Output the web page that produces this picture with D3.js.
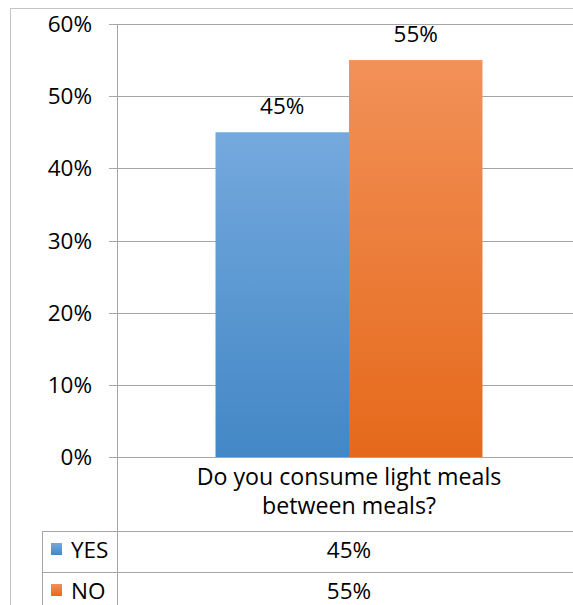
<!DOCTYPE html>
<html>
<head>
<meta charset="utf-8">
<script src="https://cdn.jsdelivr.net/npm/d3@7"></script>
<style>
  body { margin: 0; background: #fff; }
  svg { display: block; font-family: "Open Sans", sans-serif; }
</style>
</head>
<body>
<div id="chart"></div>
<script>
// chart data
var categories = ["Do you consume light meals between meals?"];
var categoryLines = ["Do you consume light meals", "between meals?"];
var seriesNames = ["YES", "NO"];
var seriesValues = [0.45, 0.55];
var yTicks = [0, 0.1, 0.2, 0.3, 0.4, 0.5, 0.6];

var width = 573, height = 605;
var gridColor = "#a6a6a6";
var fontSize = 22.5, catFontSize = 23.2;

var svg = d3.select("#chart").append("svg")
    .attr("width", width).attr("height", height);

// gradients for the two series
var defs = svg.append("defs");
var grads = [["#74a9dd", "#4387c6"], ["#f29158", "#e5691b"]];
grads.forEach(function (g, i) {
  var lg = defs.append("linearGradient").attr("id", "g" + i)
      .attr("x1", 0).attr("y1", 0).attr("x2", 0).attr("y2", 1);
  lg.append("stop").attr("offset", "0%").attr("stop-color", g[0]);
  lg.append("stop").attr("offset", "100%").attr("stop-color", g[1]);
});

var y = d3.scaleLinear().domain([0, 0.6]).range([457, 24]);
var x0 = d3.scaleBand().domain(categories).range([117, 581]).padding(0);
var x1 = d3.scaleBand().domain(seriesNames)
    .range([0, x0.bandwidth()]).paddingInner(0).paddingOuter(0.738);

// outer frame
svg.append("line").attr("x1", 10).attr("x2", width).attr("y1", 8.5).attr("y2", 8.5)
    .attr("stroke", "#c4c4c4");
svg.append("line").attr("x1", 10.5).attr("x2", 10.5).attr("y1", 8).attr("y2", height)
    .attr("stroke", "#c4c4c4");

// gridlines + tick marks
svg.selectAll(".grid").data(yTicks).enter().append("line")
    .attr("x1", 109).attr("x2", width)
    .attr("y1", function (d) { return Math.round(y(d)) + 0.5; })
    .attr("y2", function (d) { return Math.round(y(d)) + 0.5; })
    .attr("stroke", gridColor);

// y tick labels
svg.selectAll(".ytl").data(yTicks).enter().append("text")
    .attr("x", 92).attr("y", function (d) { return y(d) + 8; })
    .attr("text-anchor", "end").attr("font-size", fontSize).attr("fill", "#000")
    .text(d3.format(".0%"));

// bars
var bars = svg.selectAll(".bar").data(seriesValues).enter();
bars.append("rect")
    .attr("x", function (d, i) { return x0(categories[0]) + x1(seriesNames[i]); })
    .attr("y", function (d) { return y(d); })
    .attr("width", x1.bandwidth())
    .attr("height", function (d) { return y(0) - y(d); })
    .attr("fill", function (d, i) { return "url(#g" + i + ")"; });

bars.append("text")
    .attr("x", function (d, i) { return x0(categories[0]) + x1(seriesNames[i]) + x1.bandwidth() / 2; })
    .attr("y", function (d) { return y(d) - 18; })
    .attr("text-anchor", "middle").attr("font-size", fontSize)
    .text(d3.format(".0%"));

// value axis line
svg.append("line").attr("x1", 117.5).attr("x2", 117.5).attr("y1", y(0.6)).attr("y2", height)
    .attr("stroke", gridColor);

// category label
var cx = x0(categories[0]) + x0.bandwidth() / 2;
svg.append("text").attr("text-anchor", "middle").attr("font-size", catFontSize)
  .selectAll("tspan").data(categoryLines).enter().append("tspan")
    .attr("x", cx).attr("y", function (d, i) { return 485 + i * 29; })
    .text(function (d) { return d; });

// data table
var rowTop = 531, rowH = 41;
svg.append("line").attr("x1", 42.5).attr("x2", 42.5).attr("y1", rowTop).attr("y2", height)
    .attr("stroke", gridColor);
seriesNames.forEach(function (s, i) {
  var top = rowTop + i * rowH;
  svg.append("line").attr("x1", 42).attr("x2", width)
      .attr("y1", top + 0.5).attr("y2", top + 0.5).attr("stroke", gridColor);
  svg.append("rect").attr("x", 51).attr("y", top + 12).attr("width", 11).attr("height", 12)
      .attr("fill", "url(#g" + i + ")");
  svg.append("text").attr("x", 71).attr("y", top + 26.5).attr("font-size", fontSize).text(s);
  svg.append("text").attr("x", cx).attr("y", top + 26.5).attr("text-anchor", "middle")
      .attr("font-size", fontSize).text(d3.format(".0%")(seriesValues[i]));
});
</script>
</body>
</html>
